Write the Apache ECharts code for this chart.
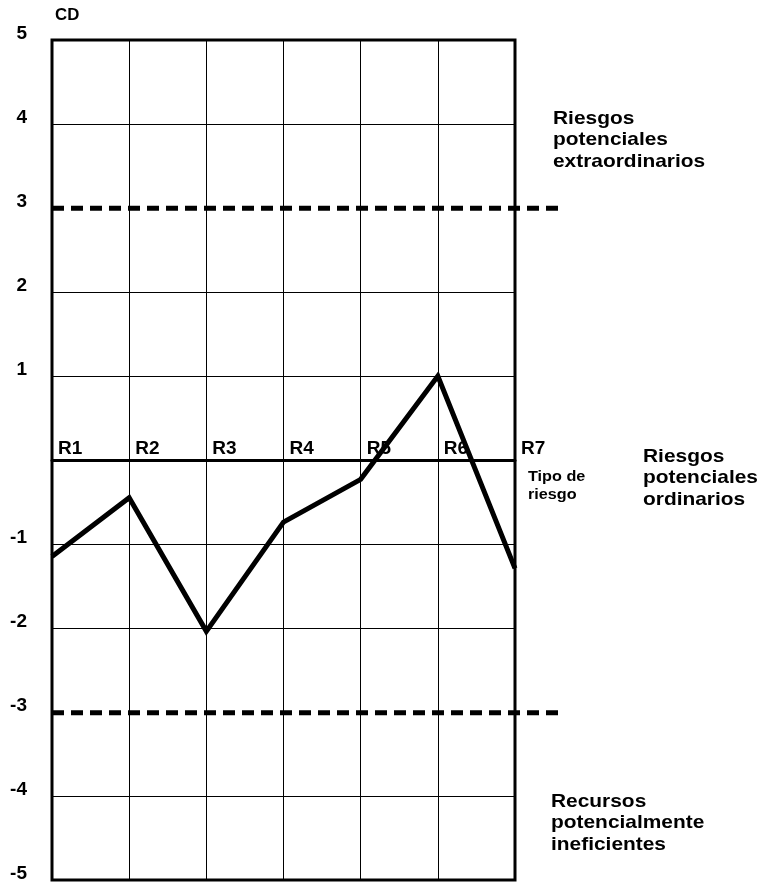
<!DOCTYPE html>
<html><head><meta charset="utf-8">
<script src="https://cdn.jsdelivr.net/npm/echarts@6/dist/echarts.min.js"></script>
<style>html,body{margin:0;padding:0;background:#fff}#c{width:764px;height:883px}</style>
</head><body><div id="c"></div>
<script>
var categories = ['R1','R2','R3','R4','R5','R6','R7'];
var values = [-1.15, -0.45, -2.04, -0.74, -0.23, 1.0, -1.29];
var yTicks = [-5,-4,-3,-2,-1,0,1,2,3,4,5];
var yTickLabels = ['-5','-4','-3','-2','-1','','1','2','3','4','5'];
var thresholds = [3, -3];
var yName = 'CD';
var xName = 'Tipo de\nriesgo';
var zoneTop = 'Riesgos\npotenciales\nextraordinarios';
var zoneMid = 'Riesgos\npotenciales\nordinarios';
var zoneLow = 'Recursos\npotencialmente\nineficientes';

var FONT = '"Liberation Sans", Arial, Helvetica, sans-serif';
var chart = echarts.init(document.getElementById('c'), null, {renderer:'canvas'});
var splitColors = yTicks.map(function(v){ return thresholds.indexOf(v) >= 0 ? 'rgba(0,0,0,0)' : '#000'; });

var GRID_TOP = 40, GRID_H = 841;
var zeroOffset = -(GRID_H / 2);

var series = [{
  type:'line', xAxisIndex:0, yAxisIndex:0,
  data: values, symbol:'none', z:5,
  lineStyle:{color:'#000', width:5, join:'miter', cap:'butt'}
}];
thresholds.forEach(function(t){
  series.push({
    type:'line', xAxisIndex:1, yAxisIndex:1, symbol:'none', z:4,
    data:[[0,t],[1,t]],
    lineStyle:{color:'#000', width:5, type:[12,7]}
  });
});

function txt(x, y, s, size, lh, sx){
  return {type:'text', x:x, y:y, scaleX:sx||1, z:10,
    style:{text:s, font:'bold '+size+'px '+FONT, fill:'#000', lineHeight:lh, verticalAlign:'top', align:'left'}};
}

chart.setOption({
  animation:false,
  backgroundColor:'#fff',
  grid:[
    {left:52, top:GRID_TOP, width:463, height:GRID_H, show:true, borderColor:'#000', borderWidth:3, z:3},
    {left:52, top:GRID_TOP, width:508, height:GRID_H, show:false}
  ],
  xAxis:[
    {type:'category', gridIndex:0, data:categories, boundaryGap:false,
     axisLine:{show:true, onZero:true, lineStyle:{color:'#000', width:3}},
     axisTick:{show:false},
     axisLabel:{show:false},
     splitLine:{show:true, lineStyle:{color:'#000', width:1}}
    },
    {type:'value', gridIndex:1, min:0, max:1, show:false},
    {type:'category', gridIndex:0, data:categories, boundaryGap:false, position:'top', offset:zeroOffset,
     axisLine:{show:false}, axisTick:{show:false}, splitLine:{show:false},
     axisLabel:{align:'left', verticalAlign:'bottom', margin:3, padding:[0,0,0,6],
       fontFamily:FONT, fontWeight:'bold', fontSize:19, color:'#000', lineHeight:17}
    }
  ],
  yAxis:[
    {type:'value', gridIndex:0, min:-5, max:5, interval:1,
     axisLine:{show:false}, axisTick:{show:false},
     axisLabel:{margin:25, verticalAlign:'bottom', lineHeight:13,
       fontFamily:FONT, fontWeight:'bold', fontSize:19, color:'#000',
       formatter:function(v){ var i = yTicks.indexOf(Math.round(v)); return i>=0 ? yTickLabels[i] : ''; }},
     splitLine:{show:true, lineStyle:{color:splitColors, width:1}}
    },
    {type:'value', gridIndex:1, min:-5, max:5, show:false}
  ],
  series: series,
  graphic:[
    txt(55, 8, yName, 16, 16, 1.05),
    txt(528, 468, xName, 15, 18, 1.08),
    txt(553, 108, zoneTop, 19, 21.5, 1.1),
    txt(643, 446, zoneMid, 19, 21.5, 1.1),
    txt(551, 791, zoneLow, 19, 21.5, 1.1)
  ]
});
</script></body></html>
